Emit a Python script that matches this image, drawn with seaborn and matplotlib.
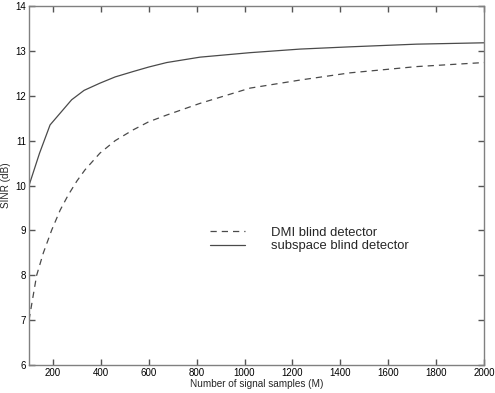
import matplotlib
matplotlib.use("Agg")
import matplotlib.pyplot as plt
import seaborn as sns
import pandas as pd

# Data
m_dmi = [100, 132, 160, 195, 230, 264, 300, 334, 396, 460, 535, 600, 675, 814, 900, 1023, 1232, 1440, 1719, 2000]
sinr_dmi = [7.0, 8.0, 8.5, 9.01, 9.45, 9.79, 10.1, 10.35, 10.72, 11.0, 11.24, 11.42, 11.57, 11.83, 11.97, 12.17, 12.35, 12.51, 12.65, 12.74]
m_sub = [100, 144, 188, 278, 330, 396, 460, 535, 600, 675, 814, 1023, 1232, 1440, 1719, 2000]
sinr_sub = [10.0, 10.72, 11.35, 11.91, 12.12, 12.28, 12.42, 12.54, 12.64, 12.74, 12.86, 12.96, 13.04, 13.09, 13.15, 13.18]
labels = ["DMI blind detector", "subspace blind detector"]
x_ticks = [200, 400, 600, 800, 1000, 1200, 1400, 1600, 1800, 2000]
y_ticks = [6, 7, 8, 9, 10, 11, 12, 13, 14]

df = pd.concat([
    pd.DataFrame({"M": m_dmi, "SINR": sinr_dmi, "detector": labels[0]}),
    pd.DataFrame({"M": m_sub, "SINR": sinr_sub, "detector": labels[1]}),
], ignore_index=True)

sns.set_theme(style="ticks")
plt.rcParams["font.family"] = ["Liberation Sans", "DejaVu Sans"]

W, H = 495, 393
L, R, T, B = 29, 484, 6, 365
fig = plt.figure(figsize=(W / 100, H / 100), dpi=100)
ax = fig.add_axes([L / W, 1 - B / H, (R - L) / W, (B - T) / H])

line_col = "#4a4a4a"
sns.lineplot(data=df, x="M", y="SINR", hue="detector", style="detector",
             palette={labels[0]: line_col, labels[1]: line_col},
             dashes={labels[0]: (5, 4), labels[1]: ""},
             linewidth=0.9, ax=ax, sort=True, estimator=None)

ax.set_xlim(100, 2000)
ax.set_ylim(6, 14)
ax.set_xticks(x_ticks)
ax.set_yticks(y_ticks)
ax.xaxis.set_ticks_position("both")
ax.yaxis.set_ticks_position("both")
ax.tick_params(axis="both", which="major", direction="in", length=4, width=1.0,
               color="#555555", labelsize=7, labelcolor="black", pad=2)
for s in ax.spines.values():
    s.set_visible(True)
    s.set_color("#808080")
    s.set_linewidth(1.0)

ax.set_xlabel("Number of signal samples (M)", fontsize=7.2, labelpad=1)
ax.set_ylabel("SINR (dB)", fontsize=7.2, labelpad=3)

leg = ax.legend(loc="upper left", bbox_to_anchor=(0.398, 0.385), frameon=False,
                fontsize=9.4, handlelength=2.68, handletextpad=2.0,
                labelspacing=0.08, borderaxespad=0, borderpad=0)
for h in leg.get_lines():
    h.set_linewidth(0.9)

fig.savefig("out.png", dpi=100)
